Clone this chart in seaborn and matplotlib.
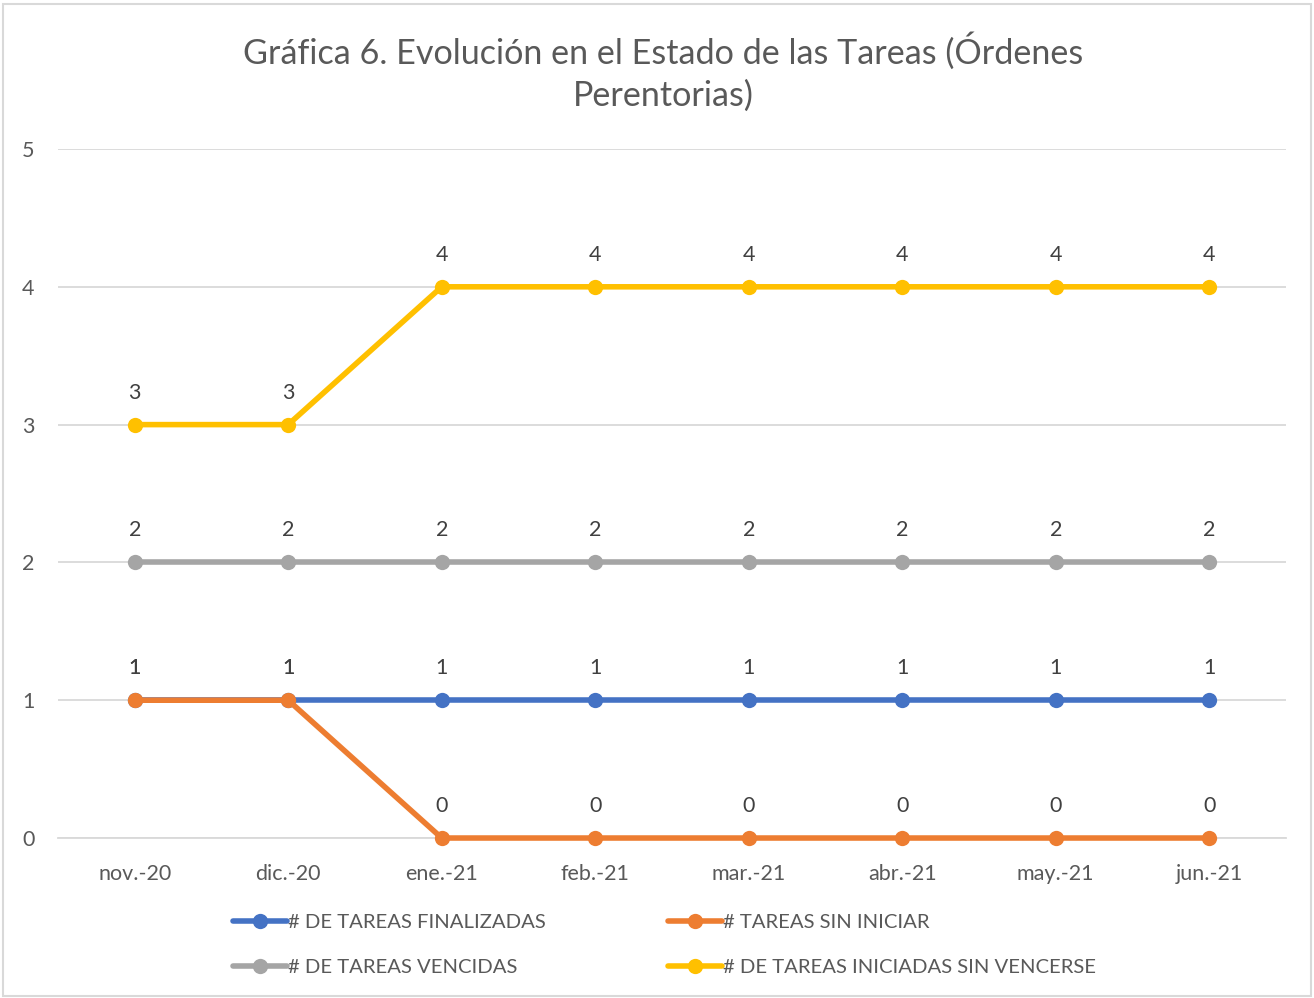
import seaborn as sns
import numpy as np
import matplotlib.pyplot as plt
import pandas as pd
from matplotlib.lines import Line2D
from matplotlib.patches import Rectangle

## months and values
months = ['nov.-20', 'dic.-20', 'ene.-21', 'feb.-21', 'mar.-21', 'abr.-21', 'may.-21', 'jun.-21']
finalizadas = [1, 1, 1, 1, 1, 1, 1, 1]
sin_iniciar = [1, 1, 0, 0, 0, 0, 0, 0]
vencidas = [2, 2, 2, 2, 2, 2, 2, 2]
iniciadas = [3, 3, 4, 4, 4, 4, 4, 4]

series_names = ['# DE TAREAS FINALIZADAS', '# TAREAS SIN INICIAR',
                '# DE TAREAS VENCIDAS', '# DE TAREAS INICIADAS SIN VENCERSE']
colors = ['#4472C4', '#ED7D31', '#A5A5A5', '#FFC000']
text_color = '#595959'

sns.set_style("white")
plt.rcParams['font.family'] = ['Lato', 'DejaVu Sans']

# long format table for seaborn
df = pd.DataFrame({
    'mes': months * 4,
    'valor': finalizadas + sin_iniciar + vencidas + iniciadas,
    'serie': np.repeat(series_names, len(months)),
})

fig = plt.figure(figsize=(13.14, 9.98), dpi=100)
ax = fig.add_axes([0.0441, 0.1603, 0.9346, 0.6904])

sns.lineplot(data=df, x='mes', y='valor', hue='serie', hue_order=series_names,
             palette=colors, marker='o', markersize=11, markeredgewidth=0,
             linewidth=4, sort=False, legend=False, ax=ax)
for ln in ax.lines:
    ln.set_clip_on(False)
    ln.set_zorder(3)

ax.set_xlim(-0.5, len(months) - 0.5)
ax.set_ylim(0, 5)
ax.set_yticks(range(0, 6))
ax.grid(axis='y', color='#D9D9D9', linewidth=1.3)
ax.set_axisbelow(True)
for s in ['top', 'right', 'left']:
    ax.spines[s].set_visible(False)
ax.spines['bottom'].set_color('#D9D9D9')
ax.spines['bottom'].set_linewidth(1.3)
ax.tick_params(axis='both', length=0, labelsize=15.5, colors=text_color)
ax.tick_params(axis='x', pad=19)
ax.tick_params(axis='y', pad=17)
ax.set_xlabel('')
ax.set_ylabel('')

# data labels above each point
for vals in [finalizadas, sin_iniciar, vencidas, iniciadas]:
    for i, v in enumerate(vals):
        ax.annotate(str(v), (i, v), xytext=(0, 23), textcoords='offset points',
                    ha='center', va='center', fontsize=15.5, color='#404040')

fig.text(0.505, 0.928, 'Gráfica 6. Evolución en el Estado de las Tareas (Órdenes\nPerentorias)',
         ha='center', va='center', fontsize=24.6, color=text_color, linespacing=1.35)

handles = [Line2D([], [], color=c, marker='o', markersize=11, linewidth=4, markeredgewidth=0)
           for c in colors]
order = [0, 2, 1, 3]
fig.legend([handles[i] for i in order], [series_names[i] for i in order],
           loc='center', bbox_to_anchor=(0.5057, 0.053), ncol=2, frameon=False,
           fontsize=14.6, labelcolor=text_color, handlelength=2.7, handletextpad=0.05,
           columnspacing=6.0, labelspacing=1.35)

# thin frame around the chart
fig.patches.append(Rectangle((0.002, 0.002), 0.996, 0.994, transform=fig.transFigure,
                             fill=False, edgecolor='#D9D9D9', linewidth=1.5))

plt.savefig('out.png', dpi=100)
